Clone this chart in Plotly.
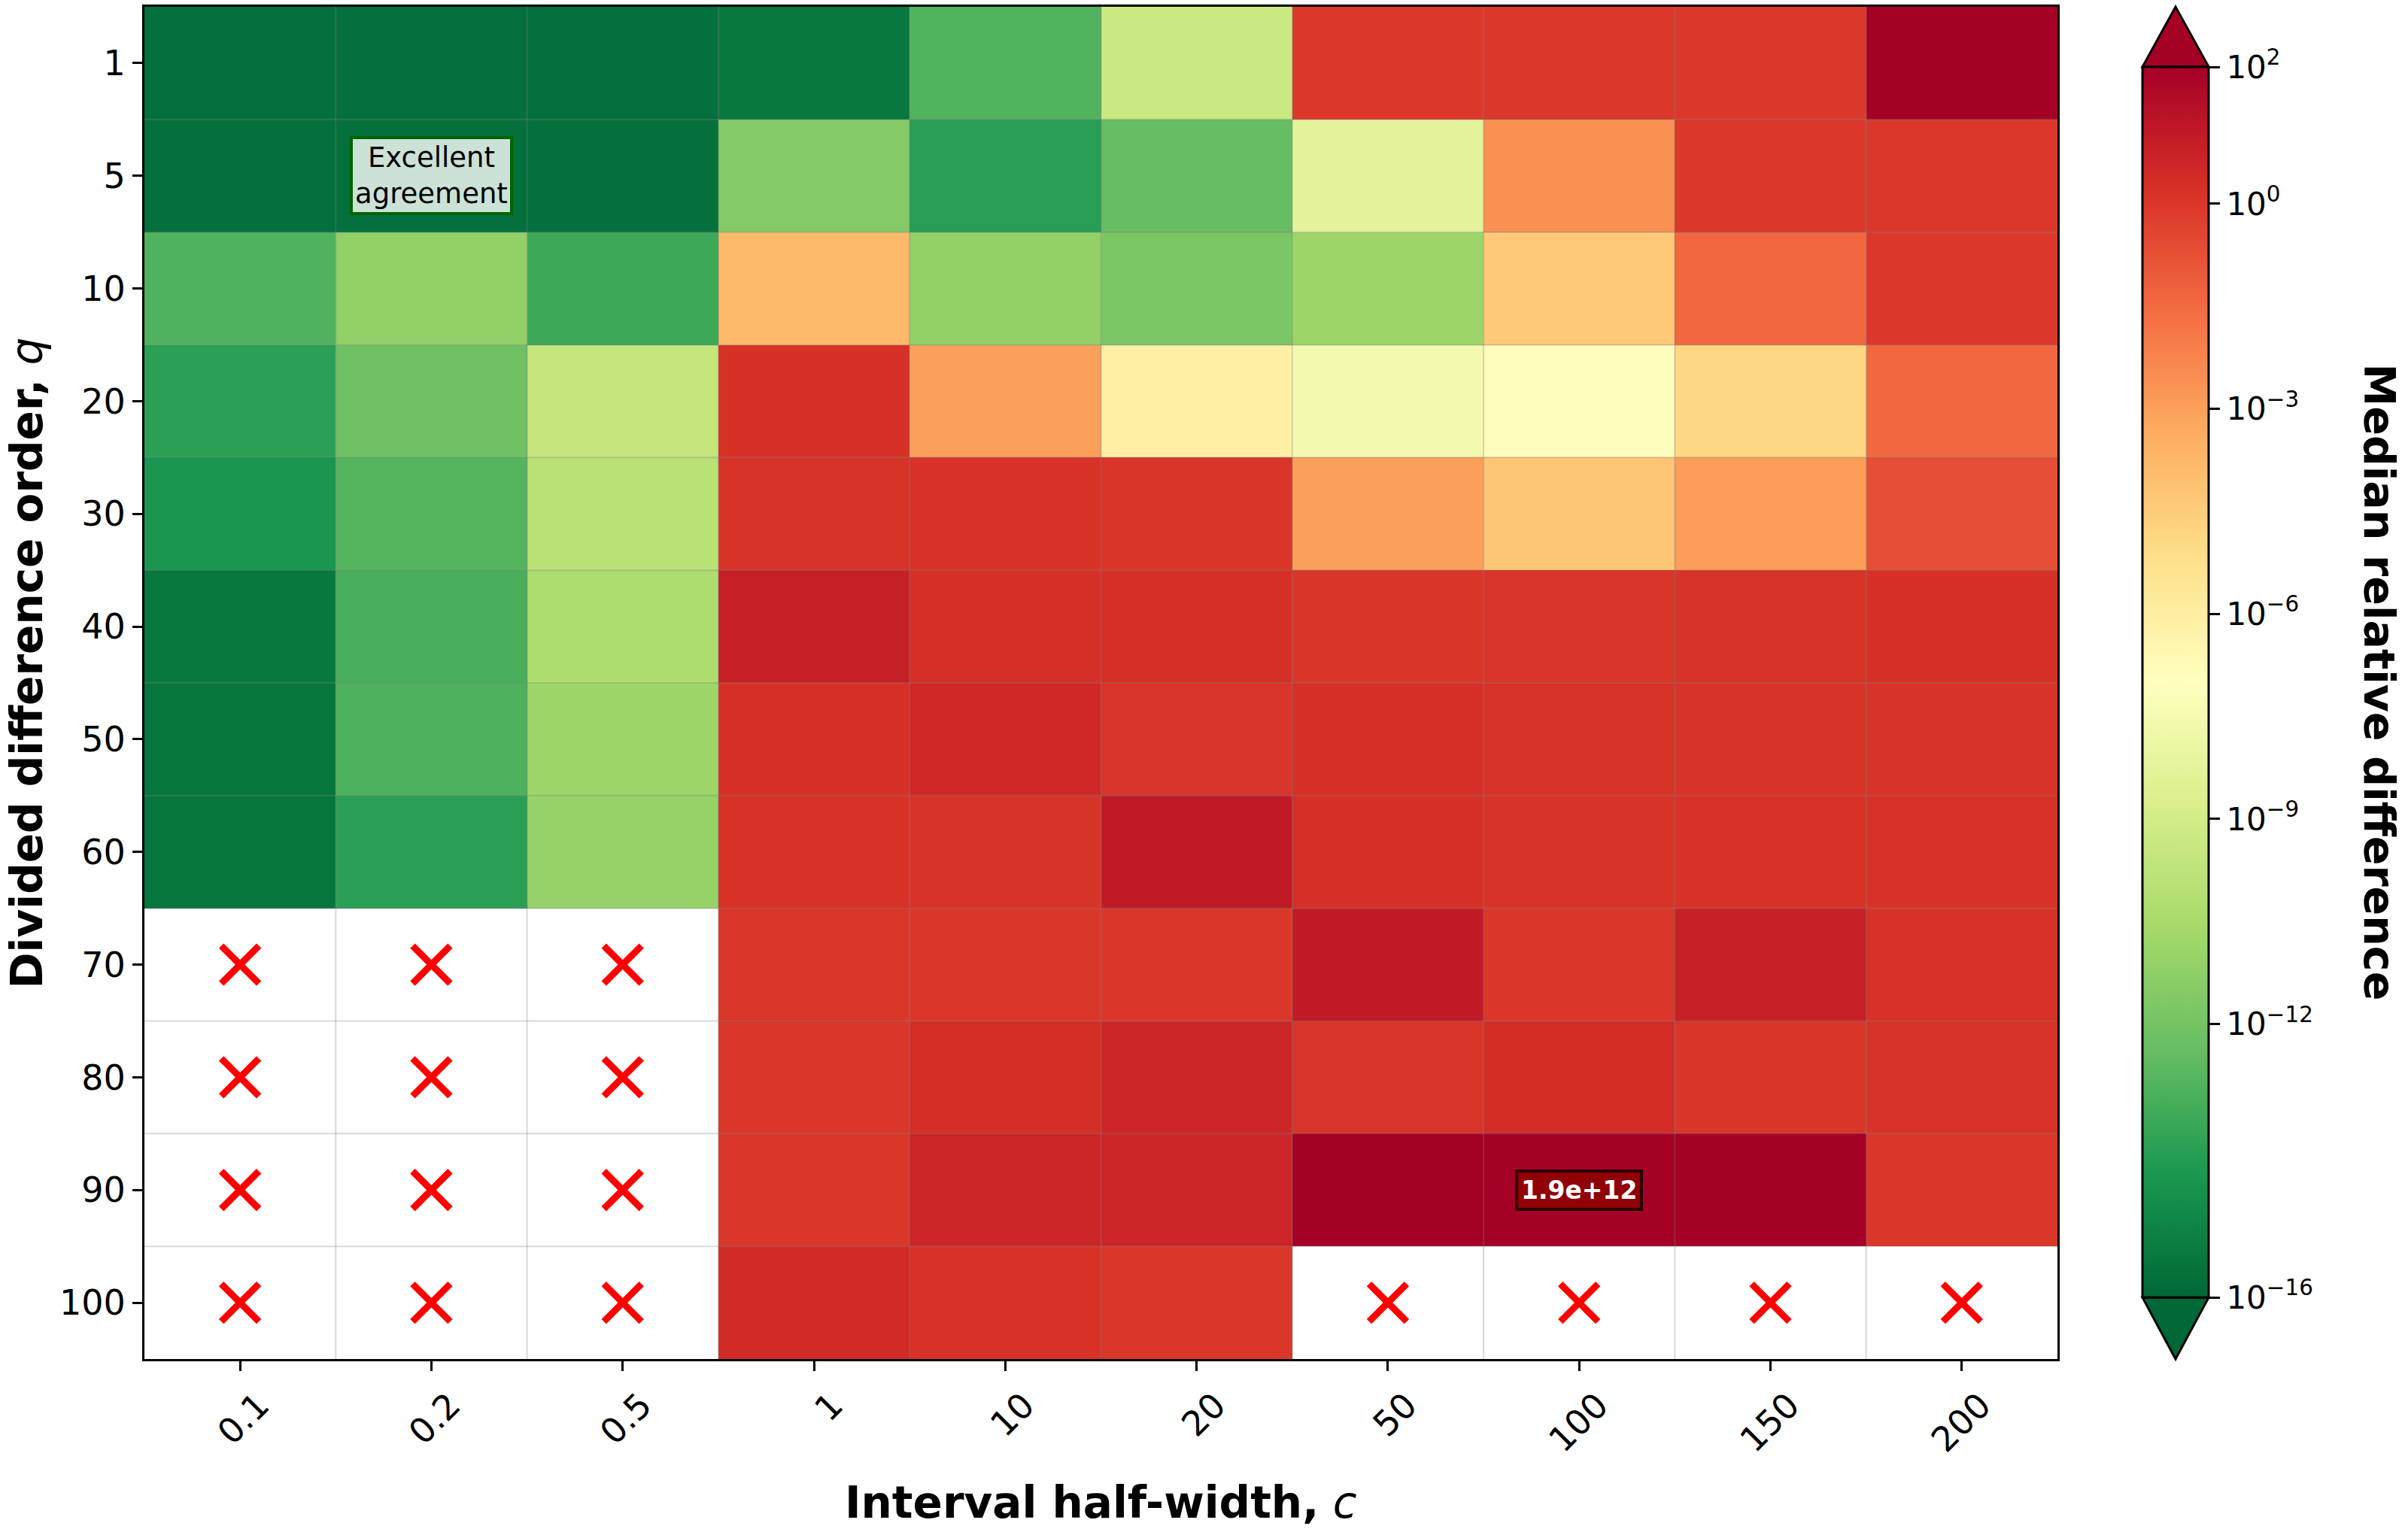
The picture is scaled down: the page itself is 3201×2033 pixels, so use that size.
import numpy as np
import plotly.graph_objects as go

# ---------------- data ----------------
c_labels = ["0.1", "0.2", "0.5", "1", "10", "20", "50", "100", "150", "200"]
q_labels = ["1", "5", "10", "20", "30", "40", "50", "60", "70", "80", "90", "100"]

# median relative difference, one list per divided-difference order q (None = no result)
q1   = [2e-16, 2e-16, 2e-16, 4e-16, 1.3e-13, 5e-10, 0.9, 0.9, 0.9, 850]
q5   = [2e-16, 2e-16, 2e-16, 2.8e-12, 1.3e-14, 4e-13, 6e-9, 2.6e-3, 0.9, 0.9]
q10  = [1.2e-13, 7e-12, 4e-14, 1.5e-4, 7.2e-12, 1.6e-12, 1.6e-11, 4e-5, 0.038, 0.9]
q20  = [1.6e-14, 7e-13, 2.9e-10, 1.5, 1e-3, 7.5e-7, 2.7e-8, 1.3e-7, 1.3e-5, 0.038]
q30  = [5e-15, 1.6e-13, 1.2e-10, 1.3, 1.4, 1.1, 1e-3, 5.5e-5, 1.1e-3, 0.19]
q40  = [4e-16, 8e-14, 5e-11, 6.5, 1.7, 1.7, 1.1, 1.2, 1.3, 1.5]
q50  = [3e-16, 1e-13, 1.6e-11, 1.6, 3.1, 1.2, 1.7, 1.3, 1.3, 1.3]
q60  = [3e-16, 1.6e-14, 9e-12, 1.4, 1.3, 10.7, 1.6, 1.3, 1.4, 1.4]
q70  = [None, None, None, 1.0, 1.0, 1.0, 10.8, 1.0, 6.3, 1.4]
q80  = [None, None, None, 1.0, 1.9, 3.6, 1.2, 2.2, 1.1, 1.3]
q90  = [None, None, None, 1.0, 4.0, 4.0, 3.4e9, 1.9e12, 7.8e10, 1.0]
q100 = [None, None, None, 2.4, 1.4, 1.0, None, None, None, None]

rows = [q1, q5, q10, q20, q30, q40, q50, q60, q70, q80, q90, q100]

cbar_exponents = [2, 0, -3, -6, -9, -12, -16]
zmin_exp, zmax_exp = -16, 2

# ---------------- geometry (pixels) ----------------
W, H = 3201, 2033
ML, MR, MT, MB = 192, 466, 6, 226
PW, PH = W - ML - MR, H - MT - MB


def px_x(px):
    return (px - ML) / PW


def px_y(py):
    return (H - MB - py) / PH


vals = np.array(rows, dtype=float)
z = np.log10(vals)
xi = list(range(len(c_labels)))
yi = list(range(len(q_labels)))

rdylgn_r = [
    [0.0, "rgb(0,104,55)"], [0.1, "rgb(26,152,80)"], [0.2, "rgb(102,189,99)"],
    [0.3, "rgb(166,217,106)"], [0.4, "rgb(217,239,139)"], [0.5, "rgb(255,255,191)"],
    [0.6, "rgb(254,224,139)"], [0.7, "rgb(253,174,97)"], [0.8, "rgb(244,109,67)"],
    [0.9, "rgb(215,48,39)"], [1.0, "rgb(165,0,38)"],
]

cb_top_px, cb_bot_px = 86, 1725
cb_left_px, cb_thick = 2848, 88

fig = go.Figure()
fig.add_trace(go.Heatmap(
    z=z, x=xi, y=yi,
    zmin=zmin_exp, zmax=zmax_exp, colorscale=rdylgn_r,
    hoverongaps=False,
    colorbar=dict(
        thickness=cb_thick, thicknessmode="pixels",
        len=(cb_bot_px - cb_top_px) / PH, lenmode="fraction",
        y=px_y(cb_bot_px), yanchor="bottom",
        x=px_x(cb_left_px), xanchor="left",
        xpad=0, ypad=0,
        outlinewidth=3, outlinecolor="black",
        tickvals=cbar_exponents,
        ticktext=["10<sup>%s</sup>" % (str(e).replace("-", "\u2212")) for e in cbar_exponents],
        ticks="outside", ticklen=14, tickwidth=2.5, tickcolor="black",
        tickfont=dict(size=42, color="black", family="DejaVu Sans"),
    ),
))

# red crosses for missing cells
mx, my = [], []
for i in yi:
    for j in xi:
        if rows[i][j] is None:
            mx.append(j)
            my.append(i)
fig.add_trace(go.Scatter(
    x=mx, y=my, mode="markers", showlegend=False, hoverinfo="skip",
    marker=dict(symbol="x-thin", size=50, color="red", line=dict(width=9, color="red")),
))

shapes = []
# cell edges
for j in range(1, len(c_labels)):
    shapes.append(dict(type="line", xref="x", yref="y", x0=j - 0.5, x1=j - 0.5,
                       y0=-0.5, y1=len(q_labels) - 0.5, layer="above",
                       line=dict(color="rgba(128,128,128,0.3)", width=2)))
for i in range(1, len(q_labels)):
    shapes.append(dict(type="line", xref="x", yref="y", y0=i - 0.5, y1=i - 0.5,
                       x0=-0.5, x1=len(c_labels) - 0.5, layer="above",
                       line=dict(color="rgba(128,128,128,0.3)", width=2)))

# colorbar extension triangles
xl, xr = px_x(cb_left_px), px_x(cb_left_px + cb_thick)
xm = (xl + xr) / 2
yt, yb = px_y(cb_top_px), px_y(cb_bot_px)
ya_top, ya_bot = px_y(6), px_y(1807)
shapes.append(dict(type="path", xref="paper", yref="paper",
                   path=f"M {xl},{yt} L {xm},{ya_top} L {xr},{yt} Z",
                   fillcolor="rgb(165,0,38)", line=dict(color="black", width=3)))
shapes.append(dict(type="path", xref="paper", yref="paper",
                   path=f"M {xl},{yb} L {xm},{ya_bot} L {xr},{yb} Z",
                   fillcolor="rgb(0,104,55)", line=dict(color="black", width=3)))

annotations = [
    dict(x=c_labels.index("0.2"), y=q_labels.index("5"), xref="x", yref="y",
         text="Excellent<br>agreement",
         showarrow=False, font=dict(size=37, color="black", family="DejaVu Sans"),
         bgcolor="rgba(255,255,255,0.8)", bordercolor="darkgreen", borderwidth=4,
         borderpad=3, align="center"),
    dict(x=c_labels.index("100"), y=q_labels.index("90"), xref="x", yref="y",
         text="<b>1.9e+12</b>",
         showarrow=False, font=dict(size=33, color="white", family="DejaVu Sans"),
         bgcolor="rgba(139,0,0,0.8)", bordercolor="rgb(40,0,0)", borderwidth=4,
         borderpad=4),
    dict(x=0.5, y=px_y(1998), xref="paper", yref="paper",
         text="<b>Interval half-width,</b> <i>c</i>", showarrow=False,
         font=dict(size=58, color="black", family="DejaVu Sans"),
         xanchor="center", yanchor="middle"),
    dict(x=px_x(36), y=px_y(880), xref="paper", yref="paper",
         text="<b>Divided difference order,</b> <i>q</i>", showarrow=False,
         textangle=-90, font=dict(size=58, color="black", family="DejaVu Sans"),
         xanchor="center", yanchor="middle"),
    dict(x=px_x(3163), y=px_y(905), xref="paper", yref="paper",
         text="<b>Median relative difference</b>", showarrow=False,
         textangle=90, font=dict(size=57, color="black", family="DejaVu Sans"),
         xanchor="center", yanchor="middle"),
]

axis_common = dict(
    showline=True, linewidth=3, linecolor="black", mirror=True,
    ticks="outside", ticklen=13, tickwidth=2.5, tickcolor="black",
    showgrid=False, zeroline=False,
    tickfont=dict(size=46, color="black", family="DejaVu Sans"),
)

fig.update_layout(
    width=W, height=H,
    margin=dict(l=ML, r=MR, t=MT, b=MB, pad=0),
    paper_bgcolor="white", plot_bgcolor="white",
    font=dict(family="DejaVu Sans", color="black"),
    xaxis=dict(**axis_common, tickmode="array", tickvals=xi, ticktext=c_labels,
               tickangle=-45, ticklabelshift=25, range=[-0.5, len(xi) - 0.5]),
    yaxis=dict(**axis_common, tickmode="array", tickvals=yi, ticktext=q_labels,
               range=[len(yi) - 0.5, -0.5]),
    shapes=shapes, annotations=annotations,
)

fig.write_html("out.html")
